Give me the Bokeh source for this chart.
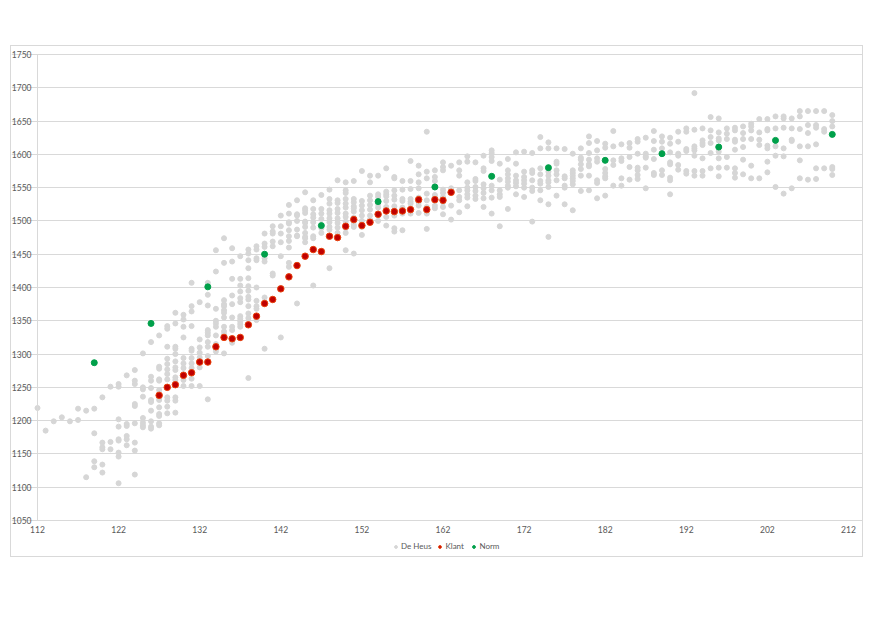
from bokeh.plotting import figure
from bokeh.models import Range1d, FixedTicker, Legend, LegendItem
from bokeh.embed import file_html
from bokeh.resources import INLINE

# ---- data ----
heus_days = list(range(112, 211))
heus_weights = [
    [1219], [1185], [1199], [1205], [1199], [1218, 1201], [1215, 1115],
    [1218, 1181, 1139, 1130],
    [1235, 1167, 1160, 1157, 1134, 1122],
    [1251, 1168, 1157],
    [1255, 1251, 1202, 1191, 1172, 1170, 1152, 1146, 1106],
    [1268, 1195, 1192, 1177, 1172, 1163],
    [1276, 1260, 1255, 1225, 1222, 1196, 1167, 1155, 1119],
    [1301, 1250, 1247, 1236, 1204, 1197, 1193, 1190],
    [1318, 1266, 1260, 1249, 1231, 1228, 1215, 1199, 1191, 1188],
    [1328, 1281, 1278, 1262, 1260, 1246, 1235, 1231, 1220, 1210, 1207, 1196, 1193],
    [1342, 1338, 1311, 1293, 1285, 1277, 1270, 1262, 1235, 1230, 1221, 1211],
    [1362, 1346, 1311, 1308, 1300, 1289, 1280, 1276, 1265, 1261, 1235, 1230, 1212],
    [1359, 1352, 1341, 1325, 1294, 1286, 1279, 1270, 1261, 1252],
    [1407, 1372, 1364, 1342, 1308, 1305, 1294, 1286, 1279, 1263, 1252],
    [1378, 1322, 1310, 1302, 1295, 1280, 1252],
    [1407, 1389, 1373, 1336, 1332, 1328, 1318, 1311, 1297, 1232],
    [1456, 1424, 1368, 1350, 1346, 1341, 1328, 1315, 1308, 1304],
    [1474, 1437, 1381, 1375, 1372, 1366, 1362, 1355, 1341, 1334, 1329, 1301],
    [1459, 1439, 1413, 1388, 1375, 1355, 1341, 1336, 1317],
    [1447, 1413, 1403, 1394, 1384, 1378, 1357, 1353, 1349, 1345, 1341],
    [1457, 1451, 1441, 1429, 1414, 1402, 1395, 1386, 1382, 1372, 1361, 1354, 1264],
    [1462, 1457, 1444, 1441, 1400, 1380, 1372, 1368, 1351],
    [1481, 1466, 1461, 1444, 1439, 1385, 1308],
    [1492, 1484, 1481, 1469, 1462, 1421, 1418],
    [1508, 1492, 1481, 1468, 1447, 1325],
    [1524, 1511, 1498, 1496, 1486, 1477, 1470, 1460, 1437, 1431],
    [1531, 1510, 1508, 1500, 1487, 1478, 1477, 1376],
    [1543, 1519, 1516, 1512, 1499, 1497, 1491, 1482, 1476, 1474, 1468],
    [1531, 1518, 1510, 1505, 1498, 1490, 1477, 1474, 1403],
    [1539, 1518, 1511, 1503, 1489, 1482],
    [1547, 1533, 1526, 1516, 1511, 1504, 1498, 1491, 1487, 1429],
    [1561, 1531, 1527, 1518, 1512, 1504, 1497, 1490, 1482],
    [1558, 1546, 1542, 1533, 1526, 1520, 1511, 1506, 1499, 1489, 1482, 1456],
    [1560, 1533, 1528, 1522, 1519, 1514, 1505, 1499, 1494, 1491, 1451],
    [1575, 1530, 1523, 1516, 1508, 1500, 1491, 1479],
    [1568, 1558, 1538, 1531, 1524, 1517, 1508, 1502],
    [1568, 1540, 1536, 1525, 1520, 1508, 1500],
    [1579, 1544, 1540, 1537, 1530, 1521, 1506, 1493],
    [1566, 1564, 1546, 1538, 1532, 1522, 1515, 1508, 1489, 1484],
    [1560, 1547, 1533, 1530, 1520, 1511, 1486],
    [1590, 1560, 1548, 1533, 1529, 1526, 1511],
    [1583, 1570, 1558, 1549, 1535, 1528, 1523, 1512],
    [1634, 1574, 1564, 1541, 1531, 1521, 1511, 1488],
    [1576, 1566, 1560, 1539, 1535, 1531, 1523, 1519],
    [1588, 1581, 1576, 1547, 1542, 1536, 1528, 1521, 1510],
    [1583, 1549, 1523, 1502],
    [1588, 1576, 1568, 1546, 1536, 1531, 1513],
    [1597, 1589, 1558, 1550, 1546, 1540, 1535, 1522],
    [1588, 1563, 1560, 1551, 1545, 1538, 1533],
    [1598, 1579, 1575, 1555, 1549, 1542, 1534, 1521],
    [1606, 1602, 1596, 1590, 1553, 1546, 1535, 1511],
    [1586, 1562, 1546, 1540, 1536, 1492],
    [1593, 1576, 1570, 1564, 1559, 1553, 1550, 1518],
    [1603, 1586, 1568, 1561, 1557, 1552, 1540],
    [1604, 1574, 1566, 1561, 1556, 1550, 1536],
    [1602, 1576, 1572, 1561, 1550, 1545, 1499],
    [1626, 1609, 1579, 1570, 1560, 1556, 1546, 1531],
    [1618, 1609, 1578, 1574, 1568, 1561, 1558, 1551, 1525, 1476],
    [1609, 1589, 1586, 1576, 1570, 1561, 1538],
    [1608, 1567, 1564, 1553, 1550, 1525],
    [1601, 1576, 1572, 1568, 1564, 1560, 1555, 1516],
    [1609, 1595, 1592, 1585, 1578, 1568, 1545],
    [1627, 1617, 1602, 1592, 1585, 1582, 1568, 1546],
    [1620, 1606, 1594, 1589, 1561, 1557, 1534],
    [1616, 1610, 1578, 1572, 1567, 1564, 1538],
    [1635, 1612, 1591, 1584, 1553],
    [1615, 1594, 1590, 1564, 1553],
    [1617, 1610, 1596, 1581, 1562],
    [1623, 1619, 1601, 1580, 1576, 1569, 1563],
    [1625, 1601, 1597, 1595, 1580, 1549],
    [1635, 1620, 1607, 1593, 1572, 1569],
    [1627, 1619, 1609, 1576, 1569],
    [1625, 1616, 1603, 1588, 1585, 1565, 1561, 1540],
    [1634, 1619, 1601, 1598, 1584, 1577],
    [1639, 1634, 1608, 1605, 1575, 1571],
    [1692, 1637, 1612, 1609, 1606, 1598, 1575, 1568],
    [1639, 1621, 1617, 1614, 1594, 1575, 1568],
    [1656, 1636, 1626, 1617, 1602, 1579],
    [1654, 1633, 1624, 1621, 1604, 1594, 1580, 1567],
    [1639, 1631, 1623, 1596, 1580],
    [1640, 1636, 1622, 1619, 1607, 1579, 1572, 1565],
    [1642, 1632, 1623, 1611, 1592, 1570],
    [1646, 1642, 1636, 1623, 1583, 1564],
    [1653, 1633, 1622, 1614, 1564],
    [1653, 1638, 1636, 1613, 1609, 1589, 1573],
    [1657, 1639, 1612, 1598, 1551],
    [1657, 1654, 1640, 1609, 1597, 1541],
    [1654, 1639, 1622, 1620, 1549],
    [1665, 1657, 1638, 1612, 1591, 1564],
    [1665, 1644, 1632, 1612, 1562],
    [1665, 1644, 1640, 1615, 1579, 1563],
    [1665, 1638, 1634, 1579],
    [1659, 1650, 1642, 1581, 1578, 1569],
]

klant_days = list(range(127, 164))
klant_weights = [1238, 1250, 1254, 1268, 1272, 1288, 1288, 1311, 1325, 1323,
                 1325, 1344, 1357, 1376, 1382, 1398, 1416, 1433, 1447, 1457,
                 1454, 1477, 1475, 1492, 1502, 1493, 1498, 1510, 1515, 1514,
                 1515, 1517, 1532, 1517, 1532, 1531, 1543]

norm_days = [119, 126, 133, 140, 147, 154, 161, 168, 175, 182, 189, 196, 203, 210]
norm_weights = [1287, 1346, 1401, 1450, 1493, 1529, 1551, 1567, 1580, 1591,
                1601, 1611, 1621, 1630]

x_ticks = [112, 122, 132, 142, 152, 162, 172, 182, 192, 202, 212]
y_ticks = [1050, 1100, 1150, 1200, 1250, 1300, 1350, 1400, 1450, 1500,
           1550, 1600, 1650, 1700, 1750]
x_min, x_max = 112, 212
y_min, y_max = 1050, 1750

series_names = ["De Heus", "Klant", "Norm"]

hx, hy = [], []
for d, ws in zip(heus_days, heus_weights):
    for w in ws:
        hx.append(d)
        hy.append(w)

FONT = "Lato"
TXT = "#595959"
GRID = "#d9d9d9"

# Plot area 811 x 466 px for the data ranges; the frame is padded on every
# side (axis labels, legend) so that nothing gets clipped.
XPX = 811 / (x_max - x_min)
YPX = 466 / (y_max - y_min)
PAD_L, PAD_R, PAD_B, PAD_T = 26, 14, 36, 8
x_range = Range1d(x_min - PAD_L / XPX, x_max + PAD_R / XPX)
y_range = Range1d(y_min - PAD_B / YPX, y_max + PAD_T / YPX)

p = figure(frame_width=811 + PAD_L + PAD_R, frame_height=466 + PAD_B + PAD_T,
           x_range=x_range, y_range=y_range,
           output_backend="svg", toolbar_location=None,
           min_border_left=0, min_border_right=0,
           min_border_top=0, min_border_bottom=0)
p.margin = (45, 0, 0, 10)
p.styles = {"border": "1px solid #d9d9d9"}
p.outline_line_color = None
p.background_fill_color = "white"
p.border_fill_color = "white"

r1 = p.scatter(hx, hy, size=5, fill_color="#d6d6d6", line_color="#d6d6d6")
r2 = p.scatter(klant_days, klant_weights, size=6.5, fill_color="#c00000",
               line_color="#e8400a", line_width=1)
r3 = p.scatter(norm_days, norm_weights, size=6, fill_color="#00a04a",
               line_color="#00a04a")

p.xaxis.ticker = FixedTicker(ticks=x_ticks)
p.yaxis.ticker = FixedTicker(ticks=y_ticks)
p.xaxis.fixed_location = y_min
p.yaxis.fixed_location = x_min
p.xaxis.bounds = (x_min, x_max)
p.yaxis.bounds = (y_min, y_max)
for ax in (p.xaxis[0], p.yaxis[0]):
    ax.major_tick_line_color = None
    ax.minor_tick_line_color = None
    ax.major_tick_out = 0
    ax.major_tick_in = 0
    ax.minor_tick_out = 0
    ax.minor_tick_in = 0
    ax.axis_line_color = GRID
    ax.major_label_text_color = TXT
    ax.major_label_text_font = FONT
    ax.major_label_text_font_size = "8.5px"
p.xaxis.major_label_standoff = 5
p.yaxis.major_label_standoff = 6
p.xgrid.grid_line_color = None
p.ygrid.grid_line_color = GRID
p.ygrid.grid_line_width = 1
p.ygrid.bounds = (x_min, x_max)

legend = Legend(items=[LegendItem(label=series_names[0], renderers=[r1]),
                       LegendItem(label=series_names[1], renderers=[r2]),
                       LegendItem(label=series_names[2], renderers=[r3])],
                location=(381, 5), orientation="horizontal",
                label_text_font=FONT, label_text_font_size="8px",
                label_text_color=TXT, glyph_width=7, glyph_height=9,
                label_standoff=2, spacing=5, padding=1, margin=0,
                label_height=8,
                border_line_color=None, background_fill_alpha=0)
p.add_layout(legend)

open("out.html", "w").write(file_html(p, INLINE))
